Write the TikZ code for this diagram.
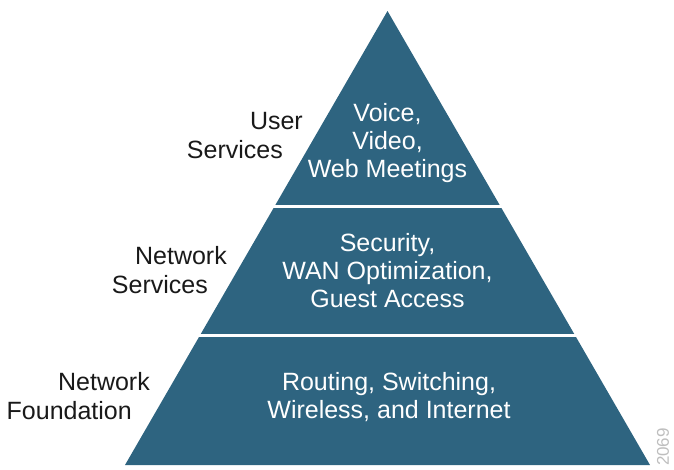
\documentclass[tikz,border=0pt]{standalone}
\usepackage{fontspec}
\setmainfont{Liberation Sans}
\usetikzlibrary{calc}
\definecolor{pyrteal}{RGB}{46,100,128}
\definecolor{figgray}{RGB}{190,190,190}

\begin{document}
\begin{tikzpicture}[x=1pt, y=-1pt,
  layertext/.style={text=white, align=center, anchor=base, inner sep=0pt, font=\fontsize{25}{28}\selectfont},
  sidelabel/.style={text=black!90, align=right, anchor=base east, inner sep=0pt, font=\fontsize{25}{28.5}\selectfont},
  gap/.style={white, line width=2.7pt, shorten <=-3pt, shorten >=-3pt}]
  \useasboundingbox (0,0) rectangle (674,469);
  % pyramid
  \coordinate (apex) at (387.5,11);
  \coordinate (bl) at (125,465);
  \coordinate (br) at (650,465);
  \fill[pyrteal] (apex) -- (bl) -- (br) -- cycle;
  \draw[gap] ($(apex)!0.431!(bl)$) -- ($(apex)!0.431!(br)$);
  \draw[gap] ($(apex)!0.7154!(bl)$) -- ($(apex)!0.7154!(br)$);
  % layer contents (anchored at last baseline)
  \node[layertext] (usr) at (387.5,177) {Voice,\\Video,\\Web Meetings};
  \node[layertext] (net) at (387.5,307) {Security,\\WAN Optimization,\\Guest Access};
  \node[layertext] (fnd) at (389,418) {Routing, Switching,\\Wireless, and Internet};
  % side labels
  \node[sidelabel] (usrlbl) at (303,158) {User\\Services\hspace*{20pt}};
  \node[sidelabel] (netlbl) at (227,293) {Network\\Services\hspace*{19pt}};
  \node[sidelabel] (fndlbl) at (150,419) {Network\\Foundation\hspace*{18pt}};
  \node[text=figgray, rotate=90, inner sep=0pt, font=\fontsize{17}{17}\selectfont] (fignum) at (663,447) {2069};
\end{tikzpicture}
\end{document}
